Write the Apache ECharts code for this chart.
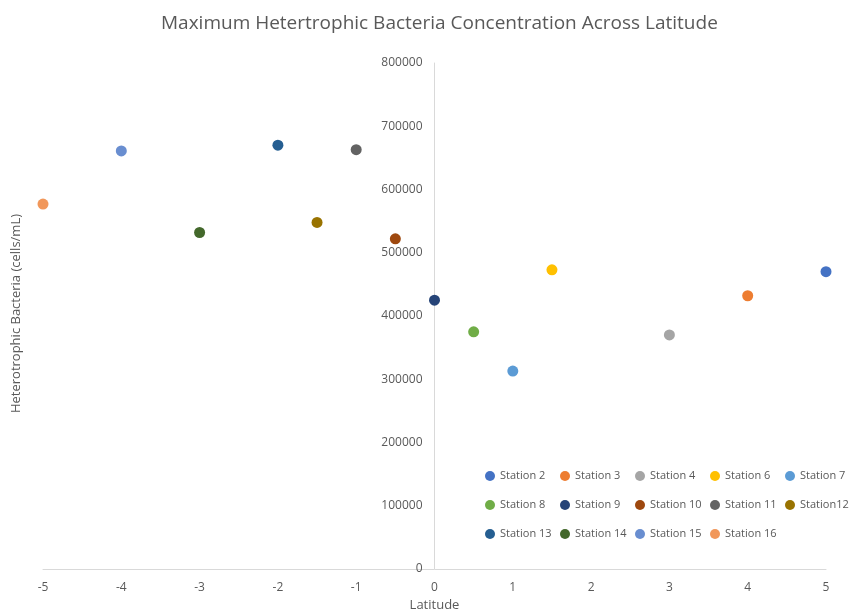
<!DOCTYPE html>
<html>
<head>
<meta charset="utf-8">
<style>
  html, body { margin: 0; padding: 0; background: #fff; }
  #chart { width: 856px; height: 612px; }
</style>
<script src="https://cdn.jsdelivr.net/npm/echarts@6/dist/echarts.min.js"></script>
</head>
<body>
<div id="chart"></div>
<script>
// station names, latitude and max concentration (cells/mL)
const stations = ['Station 2', 'Station 3', 'Station 4', 'Station 6', 'Station 7',
  'Station 8', 'Station 9', 'Station 10', 'Station 11', 'Station12',
  'Station 13', 'Station 14', 'Station 15', 'Station 16']
const latitude = [5, 4, 3, 1.5, 1, 0.5, 0, -0.5, -1, -1.5, -2, -3, -4, -5]
const concentration = [470000, 432000, 370000, 473000, 313000, 375000, 425000,
  522000, 663000, 548000, 670000, 532000, 661000, 577000]
const colors = ['#4472C4', '#ED7D31', '#A5A5A5', '#FFC000', '#5B9BD5', '#70AD47', '#264478',
  '#9E480E', '#636363', '#997300', '#255E91', '#43682B', '#698ED0', '#F1975A']

const font = 'Open Sans'
const grey = '#595959'
const gridLeft = 43
const gridRight = 30

const chart = echarts.init(document.getElementById('chart'))

chart.setOption({
  color: colors,
  title: {
    text: 'Maximum Hetertrophic Bacteria Concentration Across Latitude',
    left: 156,
    top: 9,
    textStyle: { fontFamily: font, fontSize: 19, fontWeight: 'normal', color: grey }
  },
  graphic: [{
    type: 'text',
    left: 10,
    top: 214,
    rotation: Math.PI / 2,
    style: {
      text: 'Heterotrophic Bacteria (cells/mL)',
      font: '13px "Open Sans"',
      fill: grey
    }
  }],
  legend: {
    left: 480,
    top: 459,
    width: 380,
    icon: 'circle',
    itemWidth: 10,
    itemHeight: 10,
    itemGap: 5,
    textStyle: { fontFamily: font, fontSize: 11, color: grey, width: 55, lineHeight: 24 },
    data: stations
  },
  grid: { left: gridLeft, right: gridRight, top: 63, bottom: 43, outerBoundsMode: 'none' },
  xAxis: {
    type: 'value',
    min: -5,
    max: 5,
    interval: 1,
    name: 'Latitude',
    nameLocation: 'middle',
    nameGap: 30,
    nameTextStyle: { fontFamily: font, fontSize: 13, color: grey },
    axisLine: { lineStyle: { color: '#D9D9D9' } },
    axisTick: { show: false },
    axisLabel: { fontFamily: font, fontSize: 12, color: grey, margin: 13 },
    splitLine: { show: false }
  },
  yAxis: {
    type: 'value',
    min: 0,
    max: 800000,
    interval: 100000,
    // move the axis to latitude 0 (middle of the plot)
    offset: -(856 - gridLeft - gridRight) / 2,
    axisLine: { show: true, onZero: false, lineStyle: { color: '#D9D9D9' } },
    axisTick: { show: false },
    axisLabel: { fontFamily: font, fontSize: 12, color: grey, margin: 12, formatter: v => String(v) },
    splitLine: { show: false }
  },
  series: stations.map((name, i) => ({
    name: name,
    type: 'scatter',
    symbolSize: 11,
    itemStyle: { opacity: 1 },
    data: [[latitude[i], concentration[i]]]
  }))
})
</script>
</body>
</html>
